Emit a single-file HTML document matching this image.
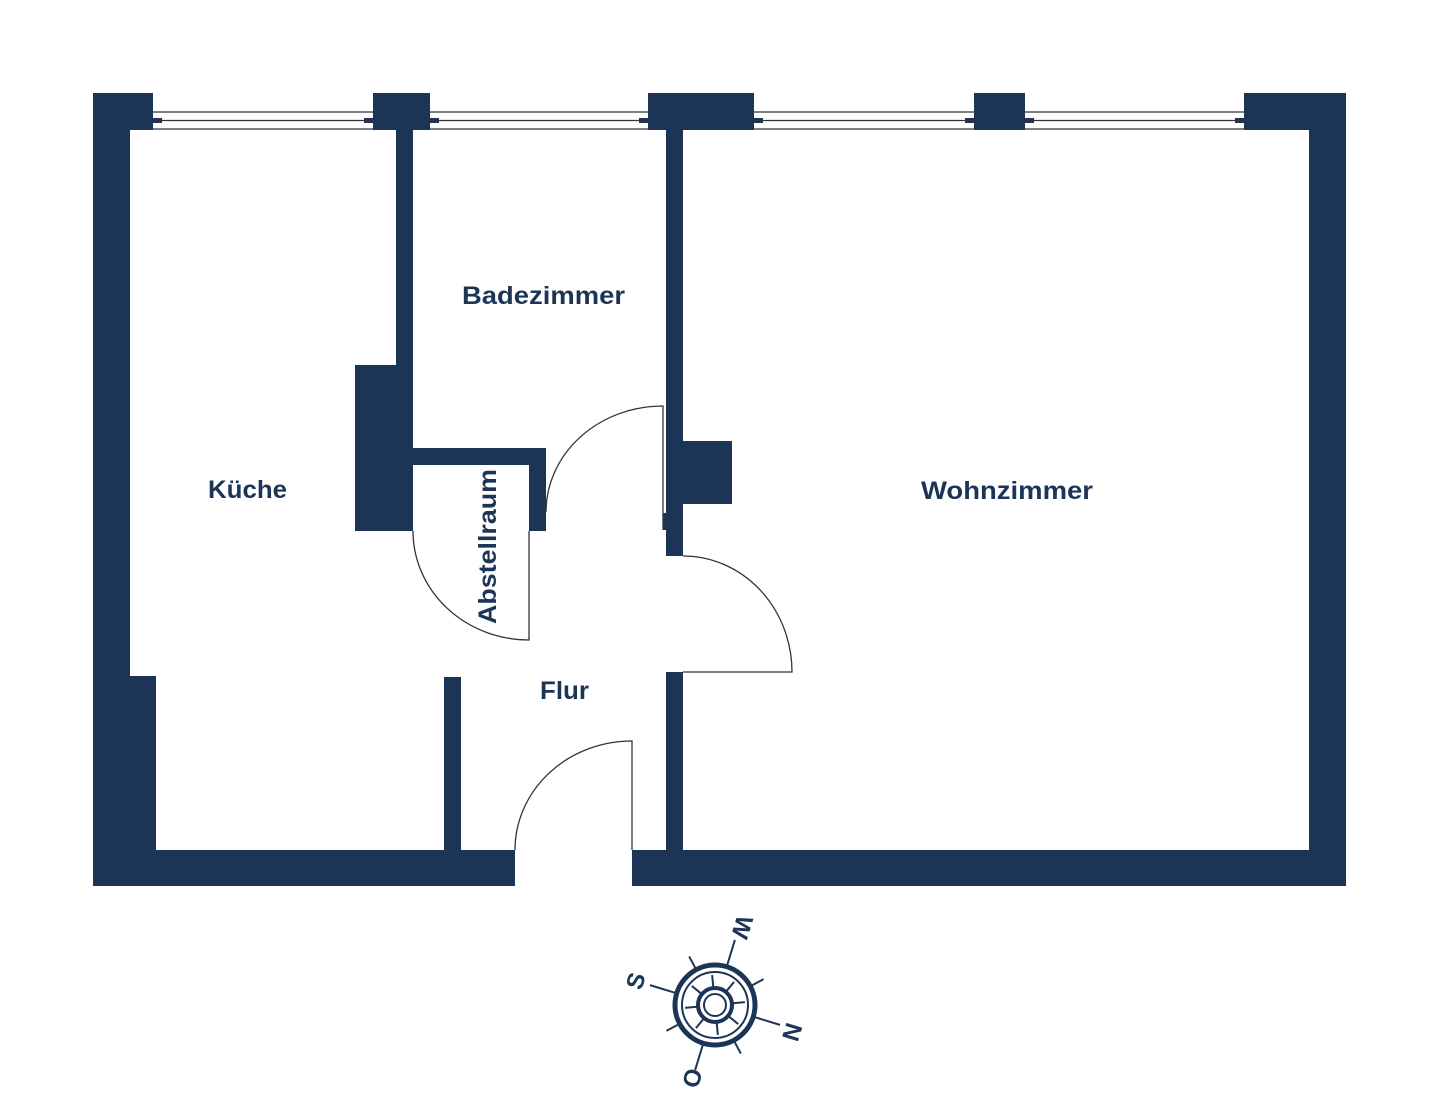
<!DOCTYPE html>
<html><head><meta charset="utf-8"><style>
html,body{margin:0;padding:0;background:#fff;width:1440px;height:1112px;overflow:hidden}
text{font-family:"Liberation Sans",sans-serif;font-weight:bold;fill:#1c3557}
</style></head><body>
<svg width="1440" height="1112" viewBox="0 0 1440 1112" xmlns="http://www.w3.org/2000/svg">
<g fill="#1c3557">
<!-- top wall blocks -->
<rect x="93" y="93" width="60" height="37"/>
<rect x="373" y="93" width="57" height="37"/>
<rect x="648" y="93" width="106" height="37"/>
<rect x="974" y="93" width="51" height="37"/>
<rect x="1244" y="93" width="102" height="37"/>
<!-- outer walls -->
<rect x="93" y="93" width="37" height="793"/>
<rect x="93" y="676" width="63" height="210"/>
<rect x="1309" y="93" width="37" height="793"/>
<rect x="93" y="850" width="422" height="36"/>
<rect x="632" y="850" width="714" height="36"/>
<!-- interior -->
<rect x="396" y="130" width="17" height="401"/>
<rect x="355" y="365" width="41" height="166"/>
<rect x="413" y="448" width="133" height="17"/>
<rect x="529" y="448" width="17" height="83"/>
<rect x="666" y="130" width="17" height="426"/>
<rect x="683" y="441" width="49" height="63"/>
<rect x="663" y="513" width="4" height="17"/>
<rect x="666" y="672" width="17" height="178"/>
<rect x="444" y="677" width="17" height="173"/>
<!-- window stubs -->
<rect x="153" y="118" width="9" height="5"/><rect x="364" y="118" width="9" height="5"/>
<rect x="430" y="118" width="9" height="5"/><rect x="639" y="118" width="9" height="5"/>
<rect x="754" y="118" width="9" height="5"/><rect x="965" y="118" width="9" height="5"/>
<rect x="1025" y="118" width="9" height="5"/><rect x="1235" y="118" width="9" height="5"/>
</g>
<g stroke="#333" stroke-width="1.3" fill="none">
<path d="M153 112H373M153 120.5H373M153 129H373"/>
<path d="M430 112H648M430 120.5H648M430 129H648"/>
<path d="M754 112H974M754 120.5H974M754 129H974"/>
<path d="M1025 112H1244M1025 120.5H1244M1025 129H1244"/>
<!-- doors -->
<path d="M413 531 A116 109 0 0 0 529 640 V531"/>
<path d="M546 512 A117 106 0 0 1 663 406 V530"/>
<path d="M683 556 A109 116 0 0 1 792 672 H683"/>
<path d="M515 850 A117 109 0 0 1 632 741 V850"/>
</g>
<text x="462" y="304" font-size="25" textLength="163" lengthAdjust="spacingAndGlyphs">Badezimmer</text>
<text x="208" y="498" font-size="25" textLength="79" lengthAdjust="spacingAndGlyphs">Küche</text>
<text x="921" y="499" font-size="25" textLength="172" lengthAdjust="spacingAndGlyphs">Wohnzimmer</text>
<text x="540" y="699" font-size="25" textLength="49" lengthAdjust="spacingAndGlyphs">Flur</text>
<text transform="translate(496,624) rotate(-90)" font-size="25" textLength="155" lengthAdjust="spacingAndGlyphs">Abstellraum</text>
<!-- compass -->
<g transform="translate(715,1005)">
<g stroke="#1c3557" fill="none">
<circle r="40" stroke-width="5"/>
<circle r="33" stroke-width="2"/>
<circle r="17" stroke-width="4"/>
<circle r="11" stroke-width="2"/>
</g>
<g transform="rotate(17)" stroke="#1c3557" stroke-width="2">
<line x1="40" y1="0" x2="68" y2="0"/><line x1="-40" y1="0" x2="-68" y2="0"/>
<line x1="0" y1="40" x2="0" y2="68"/><line x1="0" y1="-40" x2="0" y2="-68"/>
<g transform="rotate(45)"><line x1="40" y1="0" x2="55" y2="0"/><line x1="-40" y1="0" x2="-55" y2="0"/><line x1="0" y1="40" x2="0" y2="55"/><line x1="0" y1="-40" x2="0" y2="-55"/></g>
<g transform="rotate(22.5)"><line x1="17" y1="0" x2="30" y2="0"/><line x1="-17" y1="0" x2="-30" y2="0"/><line x1="0" y1="17" x2="0" y2="30"/><line x1="0" y1="-17" x2="0" y2="-30"/></g>
<g transform="rotate(67.5)"><line x1="17" y1="0" x2="30" y2="0"/><line x1="-17" y1="0" x2="-30" y2="0"/><line x1="0" y1="17" x2="0" y2="30"/><line x1="0" y1="-17" x2="0" y2="-30"/></g>
</g>
</g>
<text font-size="24" text-anchor="middle" transform="translate(792,1032) rotate(107)" dy="8">N</text>
<text font-size="24" text-anchor="middle" transform="translate(636,981) rotate(-73)" dy="8">S</text>
<text font-size="24" text-anchor="middle" transform="translate(742,927) rotate(107)" dy="8">W</text>
<text font-size="24" text-anchor="middle" transform="translate(692,1078) rotate(107)" dy="8">O</text>
</svg>
</body></html>
